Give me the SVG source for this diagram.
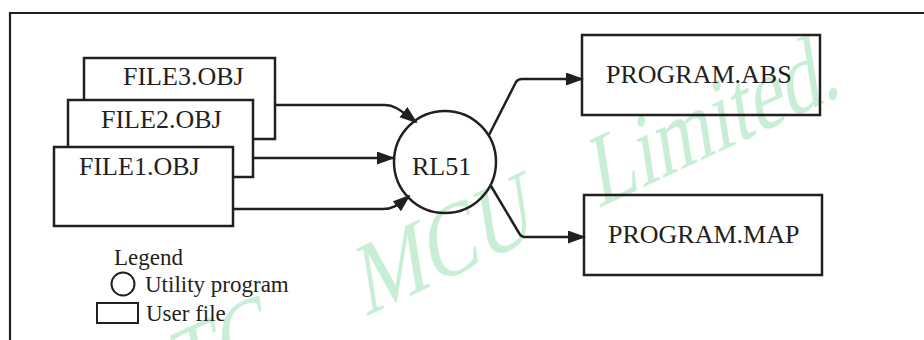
<svg xmlns="http://www.w3.org/2000/svg" width="924" height="340" viewBox="0 0 924 340">
<style>
.t{font-family:"Liberation Serif","Times New Roman",serif;font-size:26px;fill:#231f20}
.s{font-family:"Liberation Serif","Times New Roman",serif;font-size:23px;fill:#231f20}
.box{fill:#fff;stroke:#231f20;stroke-width:2.5}
.obox{fill:none;stroke:#231f20;stroke-width:2.5}
.ln{fill:none;stroke:#231f20;stroke-width:2.5;stroke-linejoin:round}
.wm{font-family:"Liberation Serif","Times New Roman",serif;font-size:100px;fill:#c9eed6}
</style>
<defs>
<marker id="ah" markerUnits="userSpaceOnUse" markerWidth="20" markerHeight="14" refX="16" refY="6.5" orient="auto">
<path d="M0,0 L18,6.5 L0,13 z" fill="#231f20"/>
</marker>
</defs>
<rect width="924" height="340" fill="#fff"/>
<g id="watermark">
<text class="wm" transform="translate(365,317) rotate(-25) skewX(-16)"><tspan x="-250" y="0" textLength="150" lengthAdjust="spacingAndGlyphs">STC</tspan><tspan x="0" y="0" textLength="190" lengthAdjust="spacingAndGlyphs">MCU</tspan><tspan x="257" y="0" textLength="270" lengthAdjust="spacingAndGlyphs">Limited.</tspan></text>
</g>
<g id="frame">
<path d="M10,340 V13 H924" fill="none" stroke="#231f20" stroke-width="2.2"/>
</g>
<g id="file3">
<rect class="box" x="84" y="58" width="191" height="81"/>
<text class="t" x="123" y="85">FILE3.OBJ</text>
</g>
<g id="file2">
<rect class="box" x="68" y="100" width="185" height="77"/>
<text class="t" x="101" y="128">FILE2.OBJ</text>
</g>
<g id="file1">
<rect class="box" x="54" y="147" width="179" height="79"/>
<text class="t" x="79" y="175">FILE1.OBJ</text>
</g>
<g id="rl51">
<circle cx="445" cy="162" r="51" fill="none" stroke="#231f20" stroke-width="2.5"/>
<text class="t" x="412" y="175">RL51</text>
</g>
<g id="program-abs">
<rect class="obox" x="582" y="35" width="238" height="80"/>
<text class="t" x="606" y="83">PROGRAM.ABS</text>
</g>
<g id="program-map">
<rect class="obox" x="584" y="195" width="238" height="80"/>
<text class="t" x="608" y="243">PROGRAM.MAP</text>
</g>
<g id="connectors">
<path class="ln" d="M275,105 H385 C393,105 398,108 416,122" marker-end="url(#ah)"/>
<path class="ln" d="M253,158 H393" marker-end="url(#ah)"/>
<path class="ln" d="M233,209 H383 C391,209 396,207 409,196" marker-end="url(#ah)"/>
<path class="ln" d="M489,135 L516,82 Q518,79 522,79 H582" marker-end="url(#ah)"/>
<path class="ln" d="M491,186 L519,233 Q521,237 525,237 H584" marker-end="url(#ah)"/>
</g>
<g id="legend">
<text class="s" x="114" y="265">Legend</text>
<circle cx="123" cy="284" r="11.5" fill="none" stroke="#231f20" stroke-width="2"/>
<text class="s" x="145" y="292">Utility program</text>
<rect x="97" y="303" width="41" height="20" fill="none" stroke="#231f20" stroke-width="2"/>
<text class="s" x="146" y="321">User file</text>
</g>
</svg>
